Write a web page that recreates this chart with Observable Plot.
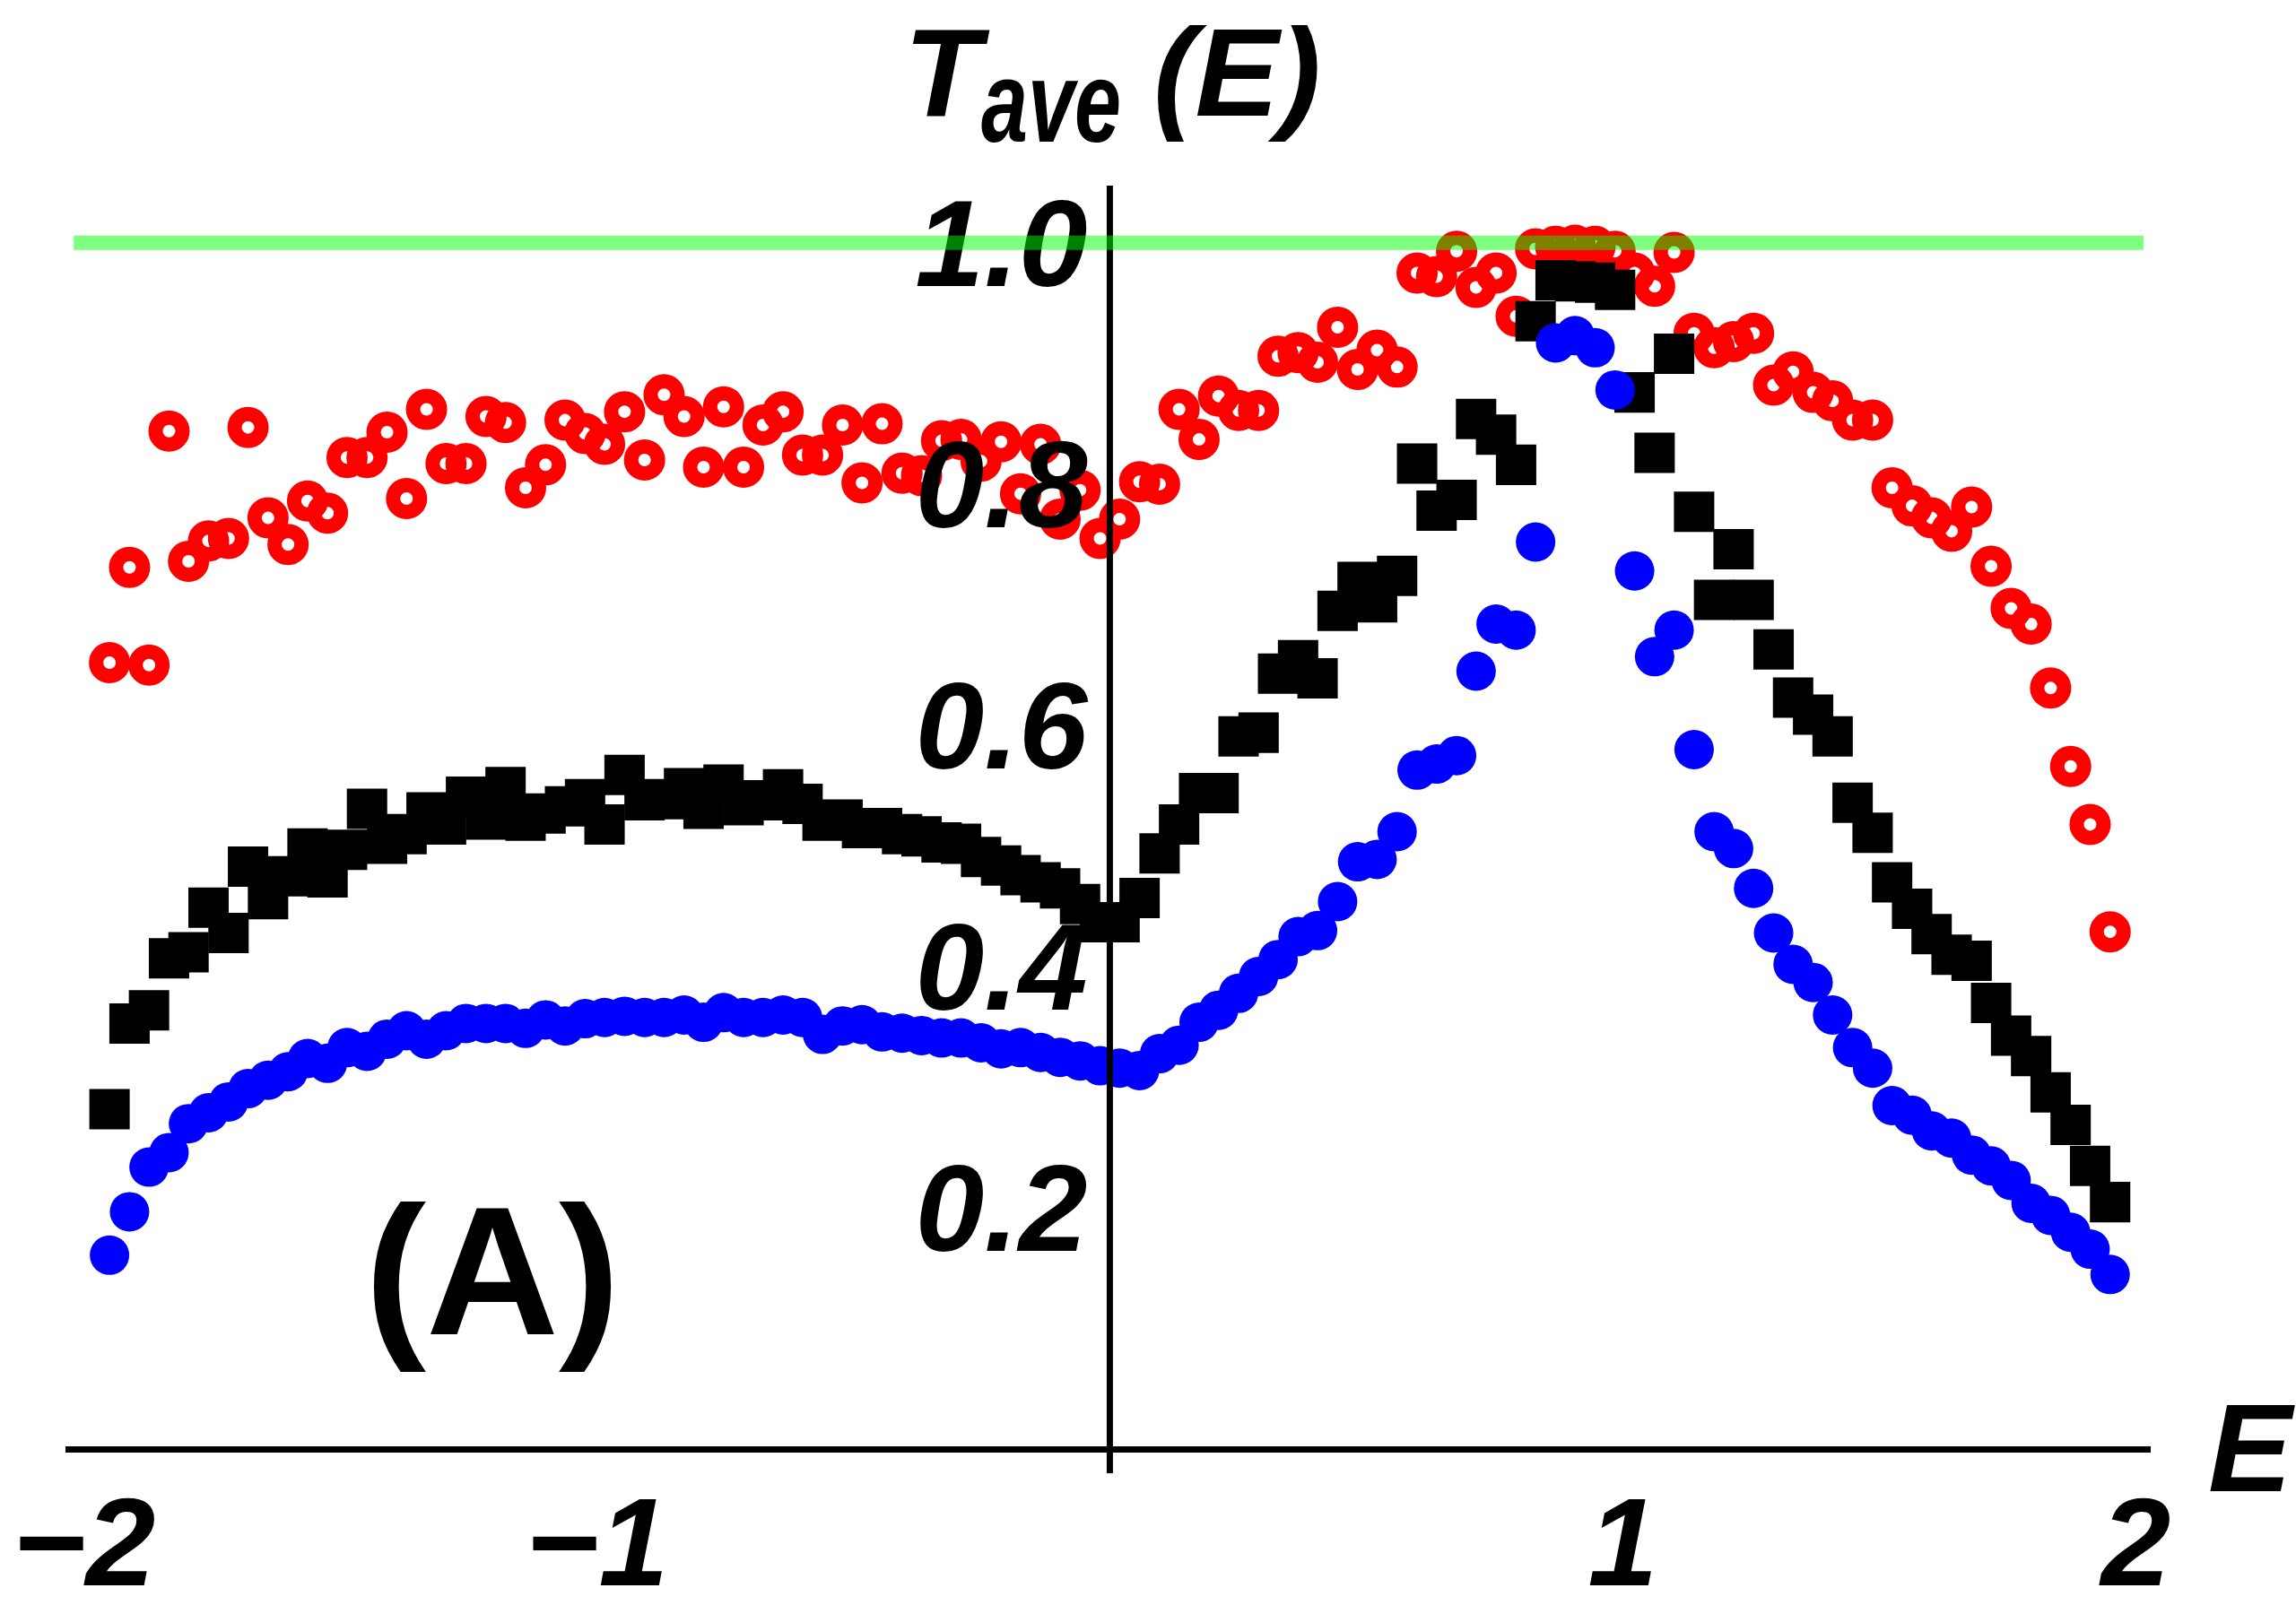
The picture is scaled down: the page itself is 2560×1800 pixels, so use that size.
<!DOCTYPE html>
<html><head><meta charset="utf-8">
<script src="https://cdn.jsdelivr.net/npm/d3@7"></script>
<script src="https://cdn.jsdelivr.net/npm/@observablehq/plot@0.6"></script>
<style>html,body{margin:0;padding:0;background:#fff;} #chart svg{display:block;}</style>
</head><body><div id="chart"></div>
<script>
const E = [-1.950,-1.911,-1.873,-1.834,-1.796,-1.757,-1.718,-1.680,-1.641,-1.602,
 -1.564,-1.525,-1.487,-1.448,-1.409,-1.371,-1.332,-1.294,-1.255,-1.216,
 -1.178,-1.139,-1.100,-1.062,-1.023,-0.985,-0.946,-0.907,-0.869,-0.830,
 -0.792,-0.753,-0.714,-0.676,-0.637,-0.599,-0.560,-0.521,-0.483,-0.444,
 -0.405,-0.367,-0.328,-0.290,-0.251,-0.212,-0.174,-0.135,-0.097,-0.058,
 -0.019,0.019,0.058,0.097,0.135,0.174,0.212,0.251,0.290,0.328,
 0.367,0.405,0.444,0.483,0.521,0.560,0.599,0.637,0.676,0.714,
 0.753,0.792,0.830,0.869,0.907,0.946,0.985,1.023,1.062,1.100,
 1.139,1.178,1.216,1.255,1.294,1.332,1.371,1.409,1.448,1.487,
 1.525,1.564,1.602,1.641,1.680,1.718,1.757,1.796,1.834,1.873,
 1.911,1.950];
const red = [.652,.731,.650,.844,.736,.753,.755,.847,.772,.750,
 .786,.776,.822,.822,.843,.788,.862,.817,.817,.856,
 .851,.797,.816,.853,.842,.833,.860,.820,.874,.856,
 .814,.864,.814,.849,.860,.824,.824,.849,.801,.850,
 .809,.807,.836,.837,.819,.835,.792,.833,.771,.795,
 .755,.771,.802,.800,.862,.837,.873,.861,.861,.906,
 .909,.901,.930,.895,.911,.897,.975,.972,.993,.963,
 .975,.939,.995,.997,.998,.997,.993,.975,.964,.992,
 .925,.913,.918,.925,.882,.893,.876,.869,.853,.853,
 .797,.782,.772,.761,.781,.732,.697,.684,.631,.566,
 .518,.429];
const black = [.282,.353,.364,.407,.412,.449,.428,.483,.456,.475,
 .498,.474,.497,.531,.502,.510,.528,.518,.541,.522,
 .549,.521,.527,.533,.539,.518,.559,.538,.539,.548,
 .531,.551,.534,.538,.547,.535,.521,.522,.515,.515,
 .510,.508,.503,.502,.491,.484,.476,.470,.465,.452,
 .437,.437,.457,.494,.518,.544,.544,.591,.594,.643,
 .654,.639,.695,.719,.702,.724,.817,.778,.787,.854,
 .841,.816,.935,.969,.968,.967,.961,.876,.826,.908,
 .777,.704,.746,.704,.663,.623,.609,.591,.536,.511,
 .470,.448,.427,.410,.405,.370,.343,.326,.296,.269,
 .235,.205];
const blue = [.161,.197,.234,.246,.270,.279,.288,.299,.306,.313,
 .324,.320,.333,.330,.340,.347,.340,.347,.353,.353,
 .353,.349,.356,.351,.357,.358,.359,.358,.358,.360,
 .354,.362,.358,.358,.360,.358,.344,.351,.352,.346,
 .345,.343,.341,.341,.337,.332,.333,.329,.325,.322,
 .318,.316,.314,.328,.335,.354,.364,.378,.392,.406,
 .425,.430,.454,.487,.489,.512,.563,.568,.575,.645,
 .684,.679,.752,.917,.923,.913,.878,.728,.657,.679,
 .580,.512,.498,.465,.428,.402,.387,.360,.333,.316,
 .285,.277,.264,.258,.244,.235,.223,.204,.194,.180,
 .166,.145];
const xTicks = [-2, -1, 1, 2];
const xTickLabels = ["\u22122", "\u22121", "1", "2"];
const yTicks = [0.2, 0.4, 0.6, 0.8, 1.0];
const yTickLabels = ["0.2", "0.4", "0.6", "0.8", "1.0"];
const refLevel = [1];

const rows = vals => E.map((e, i) => ({E: e, T: vals[i]}));
const font = "'Liberation Sans', Arial, Helvetica, sans-serif";

const plot = Plot.plot({
  width: 2560, height: 1800,
  marginLeft: 73, marginRight: 162, marginTop: 207, marginBottom: 184,
  x: {domain: [-2.035, 2.03], axis: null},
  y: {domain: [0, 1.047], axis: null},
  style: {background: "white", overflow: "visible"},
  marks: [
    Plot.dot(rows(red), {x: "E", y: "T", r: 15, stroke: "#ff0000", strokeWidth: 16, fill: "none"}),
    Plot.dot(rows(black), {x: "E", y: "T", r: 25.4, symbol: "square", fill: "black", stroke: "none"}),
    Plot.dot(rows(blue), {x: "E", y: "T", r: 22, fill: "#0000ff", stroke: "none"}),
    Plot.ruleY([0], {x1: -2.035, x2: 2.03, stroke: "black", strokeWidth: 7}),
    Plot.ruleX([0], {y1: -0.02, y2: 1.047, stroke: "black", strokeWidth: 7}),
    Plot.text(yTicks, {x: 0, y: d => d, text: (d, i) => yTickLabels[i], textAnchor: "end", lineAnchor: "bottom",
      dx: -25, dy: 48, fontSize: 138, fontWeight: "bold", fontStyle: "italic", fontFamily: font, fill: "black"}),
    Plot.text(xTicks, {x: d => d, y: 0, text: (d, i) => xTickLabels[i], textAnchor: "middle", lineAnchor: "bottom",
      dy: 151, fontSize: 140, fontWeight: "bold", fontStyle: "italic", fontFamily: font, fill: "black"}),
    Plot.ruleY(refLevel, {x1: -2.019, x2: 2.016, stroke: "#00ff00", strokeWidth: 16, strokeOpacity: 0.5})
  ]
});

const svg = d3.select(plot);
const g = svg.append("g").attr("font-family", font).attr("font-weight", "bold").attr("fill", "black")
  .attr("text-anchor", "start").style("text-anchor", "start");
g.append("text").attr("x", 1008).attr("y", 129).attr("font-size", 140).attr("font-style", "italic").text("T");
g.append("text").attr("x", 1094).attr("y", 158).attr("font-size", 128).attr("font-style", "italic")
  .attr("textLength", 156).attr("lengthAdjust", "spacingAndGlyphs").text("ave");
g.append("text").attr("x", 1286).attr("y", 129).attr("font-size", 140).attr("font-style", "italic").text("(E)");
g.append("text").attr("x", 2462).attr("y", 1663).attr("font-size", 140).attr("font-style", "italic").text("E");
g.append("text").attr("x", 549).attr("y", 1488).attr("font-size", 205).attr("text-anchor", "middle")
  .style("text-anchor", "middle").text("(A)");

document.getElementById("chart").appendChild(plot);
</script>
</body></html>
